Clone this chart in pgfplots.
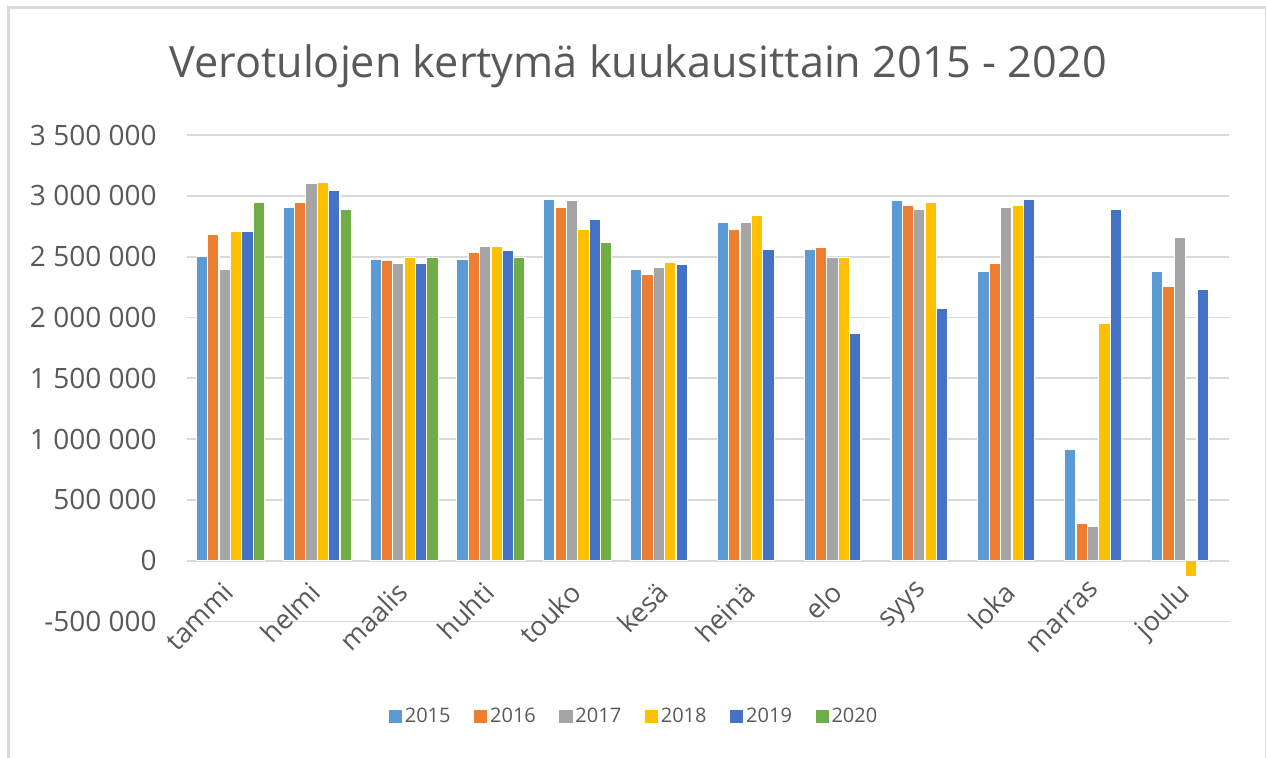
\documentclass[border=0pt]{standalone}
\usepackage{pgfplots}
\pgfplotsset{compat=1.18}
\usepackage{fontspec}
\setmainfont{Open Sans}
\definecolor{txt}{HTML}{595959}
\definecolor{gridc}{HTML}{D9D9D9}
\definecolor{c15}{HTML}{5B9BD5}
\definecolor{c16}{HTML}{ED7D31}
\definecolor{c17}{HTML}{A5A5A5}
\definecolor{c18}{HTML}{FFC000}
\definecolor{c19}{HTML}{4472C4}
\definecolor{c20}{HTML}{70AD47}
\begin{document}
\begin{tikzpicture}
\useasboundingbox (0,0) rectangle (633pt,379pt);
\fill[white] (0,0) rectangle (633pt,379pt);
\draw[gridc, line width=1.5pt] (4.25pt,0pt) -- (4.25pt,375.25pt) -- (633pt,375.25pt);
\draw[gridc, line width=0.5pt] (632.5pt,0pt) -- (632.5pt,375.25pt);
\node[anchor=base, text=txt, font=\fontsize{21.6}{26}\selectfont] at (319pt,340pt) {Verotulojen kertymä kuukausittain 2015 - 2020};
\begin{axis}[
  at={(93.5pt,68.25pt)}, anchor=south west,
  scale only axis, width=521pt, height=243.25pt,
  xmin=-0.5, xmax=11.5, ymin=-500000, ymax=3500000,
  scaled y ticks=false,
  axis line style={draw=none},
  major tick length=0pt,
  ymajorgrids, major grid style={gridc, line width=0.9pt},
  ytick={-500000,0,500000,1000000,1500000,2000000,2500000,3000000,3500000},
  yticklabels={-500 000,0,500 000,1 000 000,1 500 000,2 000 000,2 500 000,3 000 000,3 500 000},
  yticklabel style={anchor=east, inner sep=0pt, xshift=-15pt, text=txt, font=\fontsize{14}{16}\selectfont},
  xtick={0,...,11},
  xticklabels={tammi,helmi,maalis,huhti,touko,kesä,heinä,elo,syys,loka,marras,joulu},
  xticklabel style={rotate=45, anchor=north east, inner sep=0pt, xshift=11.5pt, yshift=18pt, text=txt, font=\fontsize{13.5}{16}\selectfont},
  ybar=0pt, bar width=0.131,
  every axis plot/.append style={draw=white, line width=0.6pt},
  legend columns=6,
  legend style={draw=none, fill=none, at={(0.4295,-0.1963)}, anchor=center, font=\fontsize{10}{12}\selectfont, text=txt,
    nodes={inner sep=1.5pt},
    /tikz/every even column/.append style={column sep=10.3pt}},
  legend image code/.code={\fill[#1, draw=none] (0pt,-3.25pt) rectangle (6.5pt,3.25pt);},
]
\addplot[fill=c15] coordinates {(0,2503000) (1,2903000) (2,2479000) (3,2479000) (4,2972000) (5,2396000) (6,2783000) (7,2561000) (8,2961000) (9,2380000) (10,916000) (11,2380000)};
\addplot[fill=c16] coordinates {(0,2684000) (1,2947000) (2,2465000) (3,2533000) (4,2903000) (5,2355000) (6,2725000) (7,2574000) (8,2923000) (9,2448000) (10,310000) (11,2257000)};
\addplot[fill=c17] coordinates {(0,2396000) (1,3098000) (2,2448000) (3,2585000) (4,2961000) (5,2410000) (6,2783000) (7,2492000) (8,2892000) (9,2906000) (10,283000) (11,2656000)};
\addplot[fill=c18] coordinates {(0,2711000) (1,3112000) (2,2492000) (3,2585000) (4,2725000) (5,2451000) (6,2837000) (7,2492000) (8,2947000) (9,2920000) (10,1952000) (11,-132000)};
\addplot[fill=c19] coordinates {(0,2711000) (1,3043000) (2,2448000) (3,2547000) (4,2807000) (5,2437000) (6,2561000) (7,1870000) (8,2076000) (9,2972000) (10,2892000) (11,2229000)};
\addplot[fill=c20] coordinates {(0,2947000) (1,2890000) (2,2492000) (3,2492000) (4,2615000)};
\legend{2015,2016,2017,2018,2019,2020}
\end{axis}
\end{tikzpicture}
\end{document}
